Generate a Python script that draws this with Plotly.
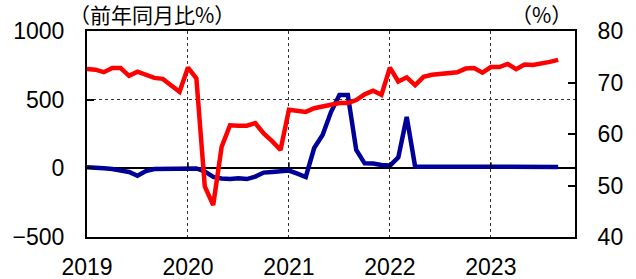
import plotly.graph_objects as go

# Monthly index: 0 = Jan 2019 ... 56 = Sep 2023
months = list(range(57))
year_ticks = [0, 12, 24, 36, 48]
year_labels = ["2019", "2020", "2021", "2022", "2023"]

# Blue series (left axis, 前年同月比%)
blue_vals = [7, 6, 0, -5, -16, -27, -54, -20, -5, -5, -5, -5,
             -1, -1, -23, -63, -74, -78, -73, -78, -60, -31, -26, -20,
             -16, -38, -63, 148, 243, 410, 534, 534, 133, 36, 35, 24,
             20, 80, 374, 12, 10, 10, 11, 11, 12, 12, 11, 12,
             11, 11, 10, 9, 9, 8, 9, 10, 10]

# Red series (right axis, %)
red_vals = [72.6, 72.5, 72.0, 72.8, 72.8, 71.3, 72.1, 71.6, 70.9, 70.7, 69.5, 68.2,
            72.9, 70.8, 49.8, 46.2, 57.5, 61.7, 61.6, 61.6, 62.1, 60.1, 58.6, 56.9,
            64.7, 64.4, 64.3, 65.0, 65.4, 65.8, 66.0, 66.0, 66.6, 67.7, 68.4, 67.6,
            72.9, 70.2, 71.0, 69.5, 71.1, 71.5, 71.6, 71.8, 72.0, 72.7, 72.8, 71.9,
            73.0, 73.0, 73.6, 72.6, 73.5, 73.4, 73.6, 74.0, 74.4]

left_ticks = [-500, 0, 500, 1000]
right_ticks = [40, 50, 60, 70, 80]

FONT = "Liberation Sans, Arial, sans-serif"
CJK = "Noto Sans CJK JP, sans-serif"

fig = go.Figure()
fig.add_trace(go.Scatter(x=months, y=blue_vals, mode="lines",
                         line=dict(color="#000099", width=4.5), yaxis="y",
                         showlegend=False))
fig.add_trace(go.Scatter(x=months, y=red_vals, mode="lines",
                         line=dict(color="#FF0000", width=4.5), yaxis="y2",
                         showlegend=False))

# small tick marks on the zero line at each year
shapes = []
for t in year_ticks[1:]:
    shapes.append(dict(type="line", xref="x", yref="y", x0=t, x1=t, y0=0, y1=45,
                       line=dict(color="black", width=1.5)))

fig.update_layout(
    width=636, height=279,
    margin=dict(l=87, r=61, t=31, b=42),
    paper_bgcolor="white", plot_bgcolor="white",
    font=dict(family=FONT, size=23, color="black"),
    xaxis=dict(range=[0, 58], tickmode="array", tickvals=year_ticks, ticktext=year_labels,
               showgrid=True, gridcolor="#333333", griddash="dot", gridwidth=1,
               showline=True, linecolor="black", linewidth=2, mirror=True,
               ticks="", zeroline=False, tickfont=dict(size=23),
               ticklabelstandoff=8, automargin=False),
    yaxis=dict(range=[-500, 1000], tickmode="array", tickvals=left_ticks,
               showgrid=True, gridcolor="#333333", griddash="dot", gridwidth=1,
               zeroline=True, zerolinecolor="black", zerolinewidth=1.5,
               showline=True, linecolor="black", linewidth=2,
               ticks="inside", ticklen=7, tickwidth=1.5, tickcolor="black",
               tickfont=dict(size=23), ticklabelstandoff=16, automargin=False),
    yaxis2=dict(range=[40, 80], tickmode="array", tickvals=right_ticks, overlaying="y",
                side="right", showgrid=False, zeroline=False,
                showline=True, linecolor="black", linewidth=2,
                ticks="inside", ticklen=7, tickwidth=1.5, tickcolor="black",
                tickfont=dict(size=23), ticklabelstandoff=16, automargin=False),
    shapes=shapes,
    annotations=[
        dict(text="（前年同月比%）", xref="paper", yref="paper", x=0.133, y=1.0825,
             xanchor="center", yanchor="middle", showarrow=False,
             font=dict(family=CJK, size=21, color="black")),
        dict(text="（%）", xref="paper", yref="paper", x=0.932, y=1.0825,
             xanchor="center", yanchor="middle", showarrow=False,
             font=dict(family=CJK, size=21, color="black")),
    ],
)

fig.write_html("out.html", config={"displayModeBar": False},
               post_script="document.body.style.margin='0';document.body.style.overflow='hidden';")
